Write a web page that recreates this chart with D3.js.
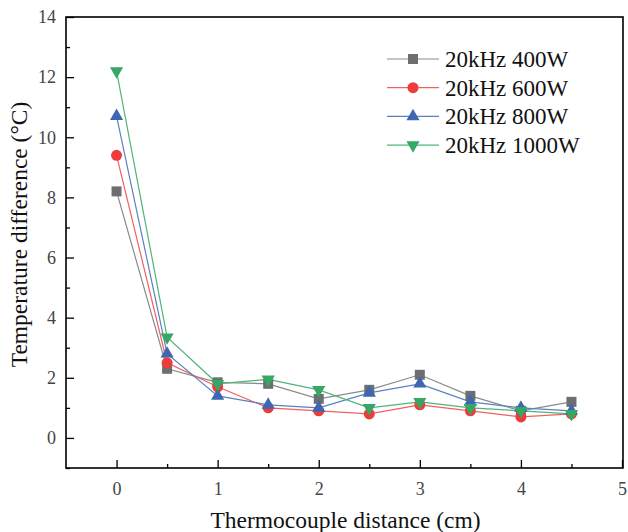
<!DOCTYPE html>
<html>
<head>
<meta charset="utf-8">
<script src="https://cdn.jsdelivr.net/npm/d3@7"></script>
<style>
  body { margin: 0; background: #fff; }
  svg { display: block; font-family: "Liberation Serif", "Times New Roman", serif; }
</style>
</head>
<body>
<svg width="628" height="532"></svg>
<script>
// расстояние до термопары, см
const distances = [0, 0.5, 1, 1.5, 2, 2.5, 3, 3.5, 4, 4.5];

const seriesNames = ["20kHz 400W", "20kHz 600W", "20kHz 800W", "20kHz 1000W"];

const values400 = [8.2, 2.3, 1.85, 1.8, 1.3, 1.6, 2.1, 1.4, 0.9, 1.2];
const values600 = [9.4, 2.5, 1.7, 1.0, 0.9, 0.8, 1.1, 0.9, 0.7, 0.8];
const values800 = [10.7, 2.8, 1.4, 1.1, 1.0, 1.5, 1.8, 1.2, 1.0, 0.9];
const values1000 = [12.2, 3.35, 1.8, 1.95, 1.6, 1.0, 1.2, 1.0, 0.9, 0.8];

const xTicks = [0, 1, 2, 3, 4, 5];
const yTicks = [0, 2, 4, 6, 8, 10, 12, 14];

const seriesValues = [values400, values600, values800, values1000];
const markerColors = ["#6d6e71", "#ee3b3b", "#3d67b1", "#35a864"];
const lineColors = ["#8a8a8c", "#f06060", "#5a80c0", "#50b47a"];
const markerTypes = [d3.symbolSquare, d3.symbolCircle, d3.symbolTriangle, d3.symbolTriangle];
const markerSizes = [100, 95, 75, 75];
const markerRotate = [0, 0, 0, 180];

const svg = d3.select("svg");
const serif = "'Liberation Serif', 'Times New Roman', serif";

const area = { left: 66, right: 623, top: 17, bottom: 468 };

const scX = d3.scaleLinear().domain([-0.5, 5.0]).range([area.left, area.right - 1]);
const scY = d3.scaleLinear().domain([-1, 14]).range([area.bottom, area.top]);

// рамка графика
svg.append("rect")
  .attr("x", area.left).attr("y", area.top)
  .attr("width", area.right - area.left).attr("height", area.bottom - area.top)
  .attr("fill", "none").attr("stroke", "#000").attr("stroke-width", 1.6);

// ось X, засечки внутрь
const axisX = svg.append("g")
  .attr("transform", `translate(0, ${area.bottom})`)
  .call(d3.axisBottom(scX).tickValues(xTicks).tickSize(-8).tickPadding(14).tickFormat(d3.format("d")));
axisX.select(".domain").remove();
svg.append("g")
  .attr("transform", `translate(0, ${area.bottom})`)
  .call(d3.axisBottom(scX).tickValues(d3.range(0.5, 5, 1)).tickSize(-4).tickFormat(""))
  .select(".domain").remove();

// ось Y
const axisY = svg.append("g")
  .attr("transform", `translate(${area.left}, 0)`)
  .call(d3.axisLeft(scY).tickValues(yTicks).tickSize(-8).tickPadding(10).tickFormat(d3.format("d")));
axisY.select(".domain").remove();
svg.append("g")
  .attr("transform", `translate(${area.left}, 0)`)
  .call(d3.axisLeft(scY).tickValues(d3.range(-1, 14, 2)).tickSize(-4).tickFormat(""))
  .select(".domain").remove();

svg.selectAll("g").attr("font-family", serif);
svg.selectAll(".tick line").attr("stroke", "#000").attr("stroke-width", 1.3);
svg.selectAll(".tick text")
  .style("font-family", serif)
  .attr("font-size", 18)
  .attr("fill", "#444");

// подписи осей
svg.append("text")
  .attr("x", (area.left + area.right) / 2 + 1).attr("y", 528)
  .attr("text-anchor", "middle")
  .style("font-family", serif)
  .attr("font-size", 23.5)
  .attr("fill", "#111")
  .text("Thermocouple distance (cm)");

svg.append("text")
  .attr("transform", `translate(27, ${(area.top + area.bottom) / 2 - 8}) rotate(-90)`)
  .attr("text-anchor", "middle")
  .style("font-family", serif)
  .attr("font-size", 23.5)
  .attr("fill", "#111")
  .text("Temperature difference (°C)");

// линии и маркеры
const line = d3.line().x(d => scX(d[0])).y(d => scY(d[1]));

seriesValues.forEach((vals, i) => {
  const pts = distances.map((x, j) => [x, vals[j]]);
  svg.append("path")
    .datum(pts)
    .attr("d", line)
    .attr("fill", "none")
    .attr("stroke", lineColors[i])
    .attr("stroke-width", 1.2);
});

seriesValues.forEach((vals, i) => {
  const pts = distances.map((x, j) => [x, vals[j]]);
  svg.append("g").selectAll("path")
    .data(pts)
    .enter()
    .append("path")
    .attr("d", d3.symbol().type(markerTypes[i]).size(markerSizes[i]))
    .attr("transform", d => `translate(${scX(d[0])}, ${scY(d[1])}) rotate(${markerRotate[i]})`)
    .attr("fill", markerColors[i]);
});

// легенда
const legend = svg.append("g").attr("transform", "translate(387, 59)");
seriesNames.forEach((name, i) => {
  const row = legend.append("g").attr("transform", `translate(0, ${i * 28.7})`);
  row.append("line")
    .attr("x1", 0).attr("x2", 52).attr("y1", 0).attr("y2", 0)
    .attr("stroke", lineColors[i]).attr("stroke-width", 1.2);
  row.append("path")
    .attr("d", d3.symbol().type(markerTypes[i]).size(markerSizes[i]))
    .attr("transform", `translate(26, 0) rotate(${markerRotate[i]})`)
    .attr("fill", markerColors[i]);
  row.append("text")
    .attr("x", 58).attr("y", 8)
    .style("font-family", serif)
    .attr("font-size", 23)
    .attr("fill", "#111")
    .text(name);
});
</script>
</body>
</html>
